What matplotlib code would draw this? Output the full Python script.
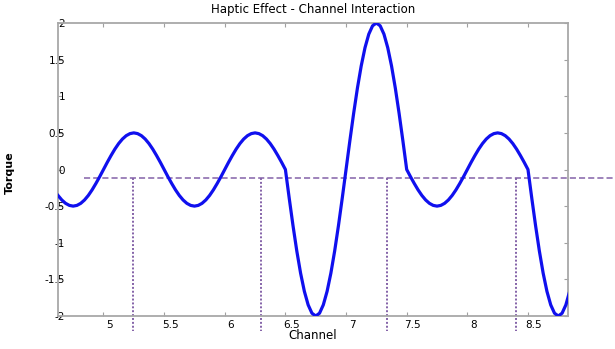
import numpy as np
import matplotlib.pyplot as plt
from matplotlib.transforms import ScaledTranslation

torque = [-0.354, -0.416, -0.462, -0.490, -0.5, -0.490, -0.462, -0.416,
          -0.354, -0.278, -0.191, -0.098,
          # 5.0 - 6.0
          0.0, 0.098, 0.191, 0.278, 0.354, 0.416, 0.462, 0.490,
          0.5, 0.490, 0.462, 0.416, 0.354, 0.278, 0.191, 0.098,
          0.0, -0.098, -0.191, -0.278, -0.354, -0.416, -0.462, -0.490,
          -0.5, -0.490, -0.462, -0.416, -0.354, -0.278, -0.191, -0.098,
          # 6.0 - 6.5
          0.0, 0.098, 0.191, 0.278, 0.354, 0.416, 0.462, 0.490,
          0.5, 0.490, 0.462, 0.416, 0.354, 0.278, 0.191, 0.098,
          # 6.5 - 7.5
          0.0, -0.390, -0.765, -1.111, -1.414, -1.663, -1.848, -1.962,
          -2.0, -1.962, -1.848, -1.663, -1.414, -1.111, -0.765, -0.390,
          0.0, 0.390, 0.765, 1.111, 1.414, 1.663, 1.848, 1.962,
          2.0, 1.962, 1.848, 1.663, 1.414, 1.111, 0.765, 0.390,
          # 7.5 - 8.5
          0.0, -0.098, -0.191, -0.278, -0.354, -0.416, -0.462, -0.490,
          -0.5, -0.490, -0.462, -0.416, -0.354, -0.278, -0.191, -0.098,
          0.0, 0.098, 0.191, 0.278, 0.354, 0.416, 0.462, 0.490,
          0.5, 0.490, 0.462, 0.416, 0.354, 0.278, 0.191, 0.098,
          # 8.5 - end
          0.0, -0.390, -0.765, -1.111, -1.414, -1.663, -1.848, -1.962,
          -2.0, -1.962, -1.848, -1.663]
channel = np.linspace(4.625, 8.84375, len(torque))

# threshold line and channel boundaries
threshold = -0.12
boundaries = [5.24, 6.30, 7.34, 8.40]

xticks = [5, 5.5, 6, 6.5, 7, 7.5, 8, 8.5]
xtick_labels = ['5', '5.5', '6', '6.5', '7', '7.5', '8', '8.5']
yticks = [-2, -1.5, -1, -0.5, 0, 0.5, 1, 1.5, 2]
ytick_labels = ['-2', '-1.5', '-1', '-0.5', '0', '0.5', '1', '1.5', '2']

plt.rcParams['font.family'] = ['DejaVu Sans']

fig = plt.figure(figsize=(6.15, 3.49), dpi=100)
ax = fig.add_axes([58 / 615, 1 - 316 / 349, 510 / 615, 293 / 349])

purple = '#8462a8'

# horizontal threshold line runs past the right edge of the axes
ax.plot([4.84, 9.4], [threshold, threshold], color=purple, linestyle=(0, (4, 2)),
        linewidth=1.1, clip_on=False, zorder=2)
for b in boundaries:
    ax.plot([b, b], [threshold, -2.2], color=purple, linestyle=(0, (1, 1)),
            linewidth=1.4, clip_on=False, zorder=2)

ax.plot(channel, torque, color='#1010ee', linewidth=2.3, zorder=3)

ax.set_xlim(4.625, 8.83)
ax.set_ylim(-2, 2)
ax.set_xticks(xticks)
ax.set_xticklabels(xtick_labels)
ax.set_yticks(yticks)
ax.set_yticklabels(ytick_labels)

for s in ax.spines.values():
    s.set_color('#a8a8a8')
    s.set_linewidth(1.3)

ax.tick_params(direction='in', top=True, right=True, length=3, width=0.8,
               color='#a0a0a0', labelsize=7.5)
ax.tick_params(axis='y', pad=-5)
ax.tick_params(axis='x', pad=3)

# x tick labels sit a little to the right of their ticks
shift = ScaledTranslation(6 / 100, 0, fig.dpi_scale_trans)
for lab in ax.get_xticklabels():
    lab.set_transform(lab.get_transform() + shift)

ax.set_title('Haptic Effect - Channel Interaction', fontsize=8.5, pad=7)
ax.set_xlabel('Channel', fontsize=8.5, labelpad=-1)
ax.set_ylabel('Torque', fontsize=8, fontweight='bold')
ax.yaxis.set_label_coords(-0.085, 0.49)

fig.savefig('out.png', dpi=100)
